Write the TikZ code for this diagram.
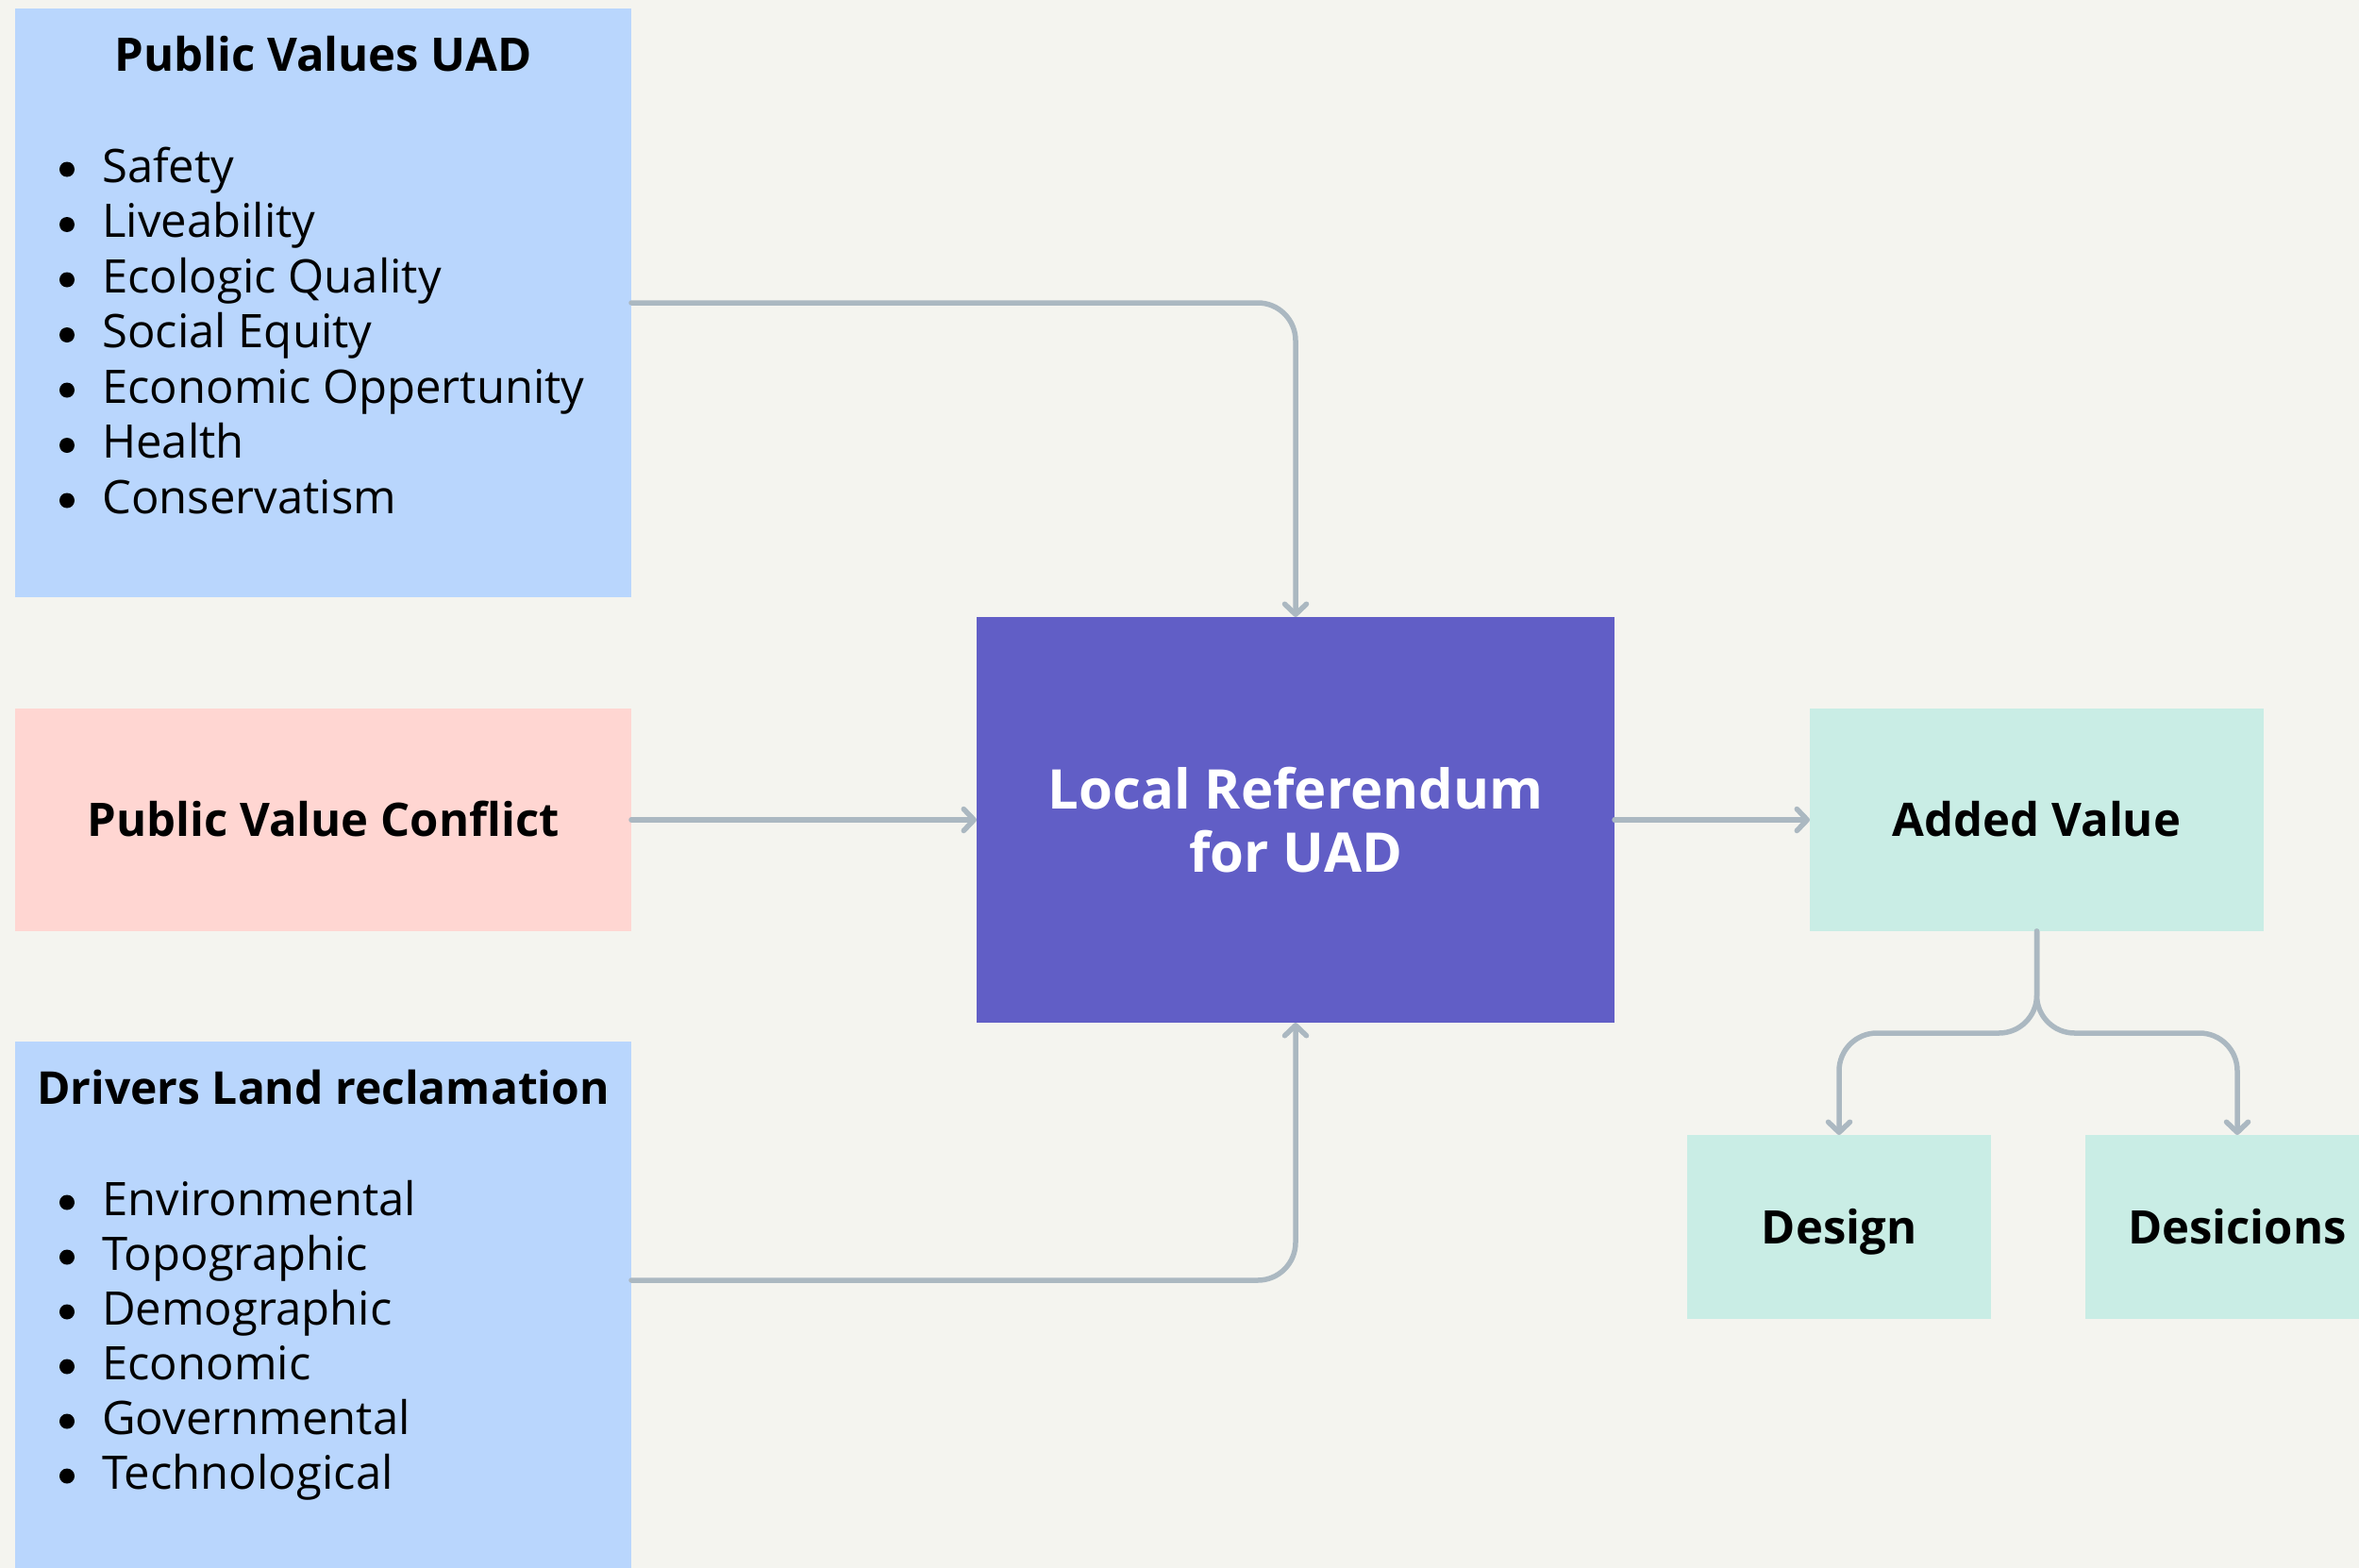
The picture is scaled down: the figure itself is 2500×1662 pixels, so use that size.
\documentclass[tikz,border=0pt]{standalone}
\usepackage{fontspec}
\setmainfont{Open Sans}
\usetikzlibrary{arrows.meta}
\definecolor{bgc}{HTML}{F4F4EF}
\definecolor{lblue}{HTML}{B9D6FD}
\definecolor{lpink}{HTML}{FFD6D2}
\definecolor{purp}{HTML}{615EC6}
\definecolor{mint}{HTML}{C9EDE5}
\definecolor{connc}{HTML}{ABB8C1}
\begin{document}
\begin{tikzpicture}[x=1pt,y=-1pt,
  box/.style={inner sep=0pt, outer sep=0pt, draw=none},
  bluebox/.style={box, fill=lblue},
  titletxt/.style={inner sep=0pt, anchor=base, font=\fontsize{49}{58}\selectfont\bfseries},
  listtxt/.style={inner sep=0pt, anchor=base west, font=\fontsize{49}{58.5}\selectfont},
  plain/.style={box, font=\fontsize{49}{58}\selectfont\bfseries, text height=35pt, text depth=0pt},
  bulletdot/.style={fill=black},
  link/.style={draw=connc, line width=5.5pt, line cap=round, rounded corners=40pt,
    -{Straight Barb[length=11pt,width=23pt,round]}}
]
\useasboundingbox (0,0) rectangle (2500,1662);
\clip (0,0) rectangle (2500,1662);
\fill[bgc] (0,0) rectangle (2500,1662);

% left column
\node[bluebox, minimum width=653pt, minimum height=624pt] (b1) at (342.5,321) {};
\node[titletxt] (t1) at (342.5,76) {Public Values UAD};
\node[listtxt] (l1) at (108,193) {\begin{tabular}[t]{@{}l@{}}
Safety\\
Liveability\\
Ecologic Quality\\
Social Equity\\
Economic Oppertunity\\
Health\\
Conservatism
\end{tabular}};
\foreach \i in {0,...,6} \fill[bulletdot] (71,{179.5+58.5*\i}) circle (8pt);

\node[plain, fill=lpink, minimum width=653pt, minimum height=236pt] (b2) at (342.5,869) {Public Value Conflict};

\node[bluebox, minimum width=653pt, minimum height=596pt] (b3) at (342.5,1402) {};
\node[titletxt, font=\fontsize{48}{58}\selectfont\bfseries] (t3) at (342.5,1170) {Drivers Land reclamation};
\node[listtxt, font=\fontsize{49}{58}\selectfont] (l3) at (108,1288) {\begin{tabular}[t]{@{}l@{}}
Environmental\\
Topographic\\
Demographic\\
Economic\\
Governmental\\
Technological
\end{tabular}};
\foreach \i in {0,...,5} \fill[bulletdot] (71,{1274.5+58*\i}) circle (8pt);

% centre
\node[box, fill=purp, text=white, minimum width=676pt, minimum height=430pt, align=center,
  font=\fontsize{58}{67}\selectfont\bfseries] (ref) at (1373,869) {Local Referendum\\for UAD};

% right
\node[plain, fill=mint, minimum width=481pt, minimum height=236pt] (av) at (2158.5,869) {Added Value};
\node[plain, fill=mint, minimum width=322pt, minimum height=195pt] (des) at (1949,1300.5) {Design};
\node[plain, fill=mint, minimum width=322pt, minimum height=195pt] (dec) at (2371,1300.5) {Desicions};

% connectors
\draw[link] (b1.east) -| (ref.north);
\draw[link] (b2.east) -- (ref.west);
\draw[link] ([yshift=45pt]b3.east) -| (ref.south);
\draw[link] (ref.east) -- (av.west);
\draw[link] (av.south) -- ([yshift=-108pt]av.south) -| (des.north);
\draw[link] (av.south) -- ([yshift=-108pt]av.south) -| (dec.north);
\end{tikzpicture}
\end{document}
